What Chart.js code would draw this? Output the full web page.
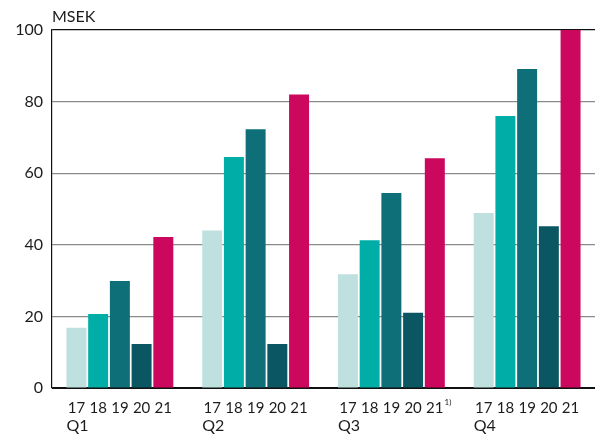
<!DOCTYPE html>
<html>
<head>
<meta charset="utf-8">
<script src="https://cdn.jsdelivr.net/npm/chart.js@4"></script>
<style>
  html,body{margin:0;padding:0;background:#fff;}
  #wrap{width:595px;height:435px;position:relative;}
</style>
</head>
<body>
<div id="wrap"><canvas id="chart"></canvas></div>
<script>
// data
const quarters = ['Q1','Q2','Q3','Q4'];
const years = ['17','18','19','20','21'];
const v17 = [16.8, 44, 31.8, 48.9];
const v18 = [20.7, 64.5, 41.3, 76];
const v19 = [29.9, 72.3, 54.5, 89.1];
const v20 = [12.3, 12.3, 21, 45.2];
const v21 = [42.2, 82, 64.2, 100];
const colors = ['#bee0df','#00aea7','#0f6f78','#0a5662','#cc085e'];
const yTicks = [0,20,40,60,80,100];

const FONT = 'Lato, "Open Sans", sans-serif';

// draw the year labels under each bar and the quarter names below them
const xLabels = {
  id:'xLabels',
  afterDraw(chart){
    const ctx = chart.ctx;
    ctx.save();
    ctx.fillStyle = '#1c1c1c';
    ctx.font = '15px ' + FONT;
    ctx.textBaseline = 'middle';
    chart.data.datasets.forEach((ds,i)=>{
      const meta = chart.getDatasetMeta(i);
      meta.data.forEach((el,j)=>{
        ctx.textAlign = 'center';
        ctx.fillText(years[i], el.x, 408);
        if(i===4 && j===2){
          const w = ctx.measureText(years[i]).width;
          ctx.save();
          ctx.font = '8px ' + FONT;
          ctx.textAlign = 'left';
          ctx.fillText('1)', el.x + w/2 + 1, 402);
          ctx.restore();
        }
      });
    });
    ctx.font = '16px ' + FONT;
    const m0 = chart.getDatasetMeta(0);
    m0.data.forEach((el,j)=>{
      ctx.textAlign = 'left';
      ctx.fillText(quarters[j], el.x - el.width/2, 426);
    });
    // unit title
    ctx.textAlign = 'left';
    ctx.fillText('MSEK', 52, 17);
    ctx.restore();
  }
};

new Chart(document.getElementById('chart'), {
  type:'bar',
  data:{
    labels: quarters,
    datasets:[v17,v18,v19,v20,v21].map((d,i)=>({
      label: years[i], data: d, backgroundColor: colors[i],
      categoryPercentage: 0.8, barPercentage: 0.92
    }))
  },
  options:{
    responsive:true, maintainAspectRatio:false, animation:false,
    layout:{ padding:{ top:30, right:0, left:0, bottom:0 } },
    plugins:{ legend:{display:false}, tooltip:{enabled:false} },
    scales:{
      x:{
        grid:{ display:false },
        border:{ display:true, color:'#111', width:1 },
        ticks:{ display:false },
        afterFit(s){ s.height = 47; }
      },
      y:{
        min:0, max:100,
        afterBuildTicks(s){ s.ticks = yTicks.map(v=>({value:v})); },
        grid:{
          drawTicks:false,
          color: c => (c.tick.value===0 || c.tick.value===100) ? '#111' : '#8a8a8a',
          lineWidth: 1.2
        },
        border:{ color:'#111', width:1.2 },
        ticks:{ padding:9, color:'#1c1c1c', font:{ family:FONT, size:16 } },
        afterFit(s){ s.width = 52; }
      }
    }
  },
  plugins:[xLabels]
});
</script>
</body>
</html>
